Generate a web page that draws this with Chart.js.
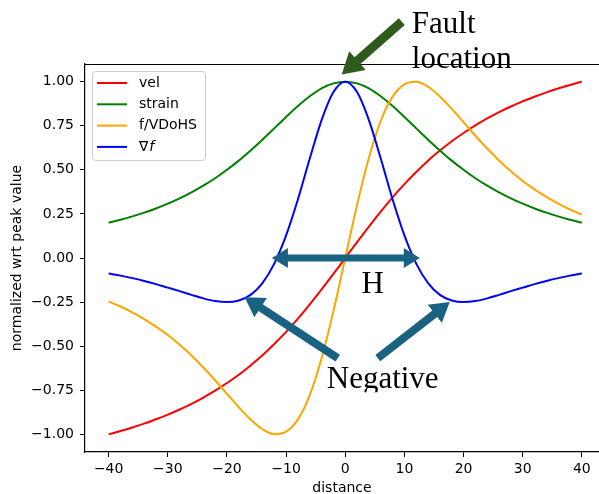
<!DOCTYPE html>
<html><head><meta charset="utf-8">
<script src="https://cdn.jsdelivr.net/npm/chart.js@4"></script>
<style>html,body{margin:0;padding:0;background:#fff;overflow:hidden}</style>
</head><body>
<canvas id="c" width="599" height="494"></canvas>
<script>
const distance = [-40,-38,-36,-34,-32,-30,-28,-26,-24,-22,-20,-18,-16,-14,-12,-10,-8,-6,-4,-2,0,2,4,6,8,10,12,14,16,18,20,22,24,26,28,30,32,34,36,38,40];
const vel = [-1.000,-0.981,-0.961,-0.939,-0.914,-0.888,-0.859,-0.827,-0.791,-0.752,-0.709,-0.662,-0.609,-0.552,-0.488,-0.419,-0.344,-0.263,-0.178,-0.090,0,0.090,0.178,0.263,0.344,0.419,0.488,0.552,0.609,0.662,0.709,0.752,0.791,0.827,0.859,0.888,0.914,0.939,0.961,0.981,1.000];
const strain = [0.200,0.217,0.236,0.257,0.281,0.308,0.338,0.372,0.410,0.452,0.500,0.552,0.610,0.671,0.735,0.800,0.862,0.917,0.962,0.990,1.000,0.990,0.962,0.917,0.862,0.800,0.735,0.671,0.610,0.552,0.500,0.452,0.410,0.372,0.338,0.308,0.281,0.257,0.236,0.217,0.200];
const fVDoHS = [-0.246,-0.275,-0.308,-0.346,-0.389,-0.437,-0.492,-0.553,-0.621,-0.693,-0.770,-0.846,-0.916,-0.971,-0.999,-0.985,-0.915,-0.778,-0.569,-0.302,0,0.302,0.569,0.778,0.915,0.985,0.999,0.971,0.916,0.846,0.770,0.693,0.621,0.553,0.492,0.437,0.389,0.346,0.308,0.275,0.246];
const gradF = [-0.088,-0.100,-0.114,-0.130,-0.148,-0.168,-0.188,-0.209,-0.229,-0.244,-0.250,-0.241,-0.209,-0.142,-0.032,0.128,0.333,0.564,0.782,0.941,1.000,0.941,0.782,0.564,0.333,0.128,-0.032,-0.142,-0.209,-0.241,-0.250,-0.244,-0.229,-0.209,-0.188,-0.168,-0.148,-0.130,-0.114,-0.100,-0.088];
const xTicks = [-40,-30,-20,-10,0,10,20,30,40];
const yTicks = [-1,-0.75,-0.5,-0.25,0,0.25,0.5,0.75,1];
const seriesLabels = ['vel','strain','f/VDoHS','\u2207f'];
const seriesColors = ['#ff0000','#008000','#ffa500','#0000ff'];
const seriesData = [vel, strain, fVDoHS, gradF];

Chart.defaults.font.family = '"DejaVu Sans", sans-serif';
Chart.defaults.font.size = 14;
Chart.defaults.color = '#000';

const minus = s => String(s).replace('-', '\u2212');

function arrow(ctx, x1, y1, x2, y2, sw, hw, hl, col, both) {
  const dx = x2 - x1, dy = y2 - y1, L = Math.hypot(dx, dy);
  const ux = dx / L, uy = dy / L, nx = -uy, ny = ux;
  const P = (t, w) => [x1 + ux * t + nx * w, y1 + uy * t + ny * w];
  const pts = [];
  if (both) { pts.push(P(0, 0), P(hl, hw / 2), P(hl, sw / 2)); } else { pts.push(P(0, sw / 2)); }
  pts.push(P(L - hl, sw / 2), P(L - hl, hw / 2), P(L, 0), P(L - hl, -hw / 2), P(L - hl, -sw / 2));
  if (both) { pts.push(P(hl, -sw / 2), P(hl, -hw / 2)); } else { pts.push(P(0, -sw / 2)); }
  ctx.fillStyle = col;
  ctx.beginPath();
  pts.forEach((p, i) => i ? ctx.lineTo(p[0], p[1]) : ctx.moveTo(p[0], p[1]));
  ctx.closePath();
  ctx.fill();
}

const annot = {
  id: 'annot',
  afterDraw(chart) {
    const {ctx, chartArea: a, scales: {x, y}} = chart;
    const px = v => x.getPixelForValue(v), py = v => y.getPixelForValue(v);
    ctx.save();
    // top spine
    ctx.strokeStyle = '#000'; ctx.lineWidth = 1.2;
    ctx.beginPath(); ctx.moveTo(a.left, a.top + 0.5); ctx.lineTo(a.right, a.top + 0.5); ctx.stroke();

    // legend
    const lx = a.left + 7, ly = a.top + 7, lw = 113, lh = 89;
    ctx.beginPath();
    ctx.roundRect(lx + 0.5, ly + 0.5, lw, lh, 3);
    ctx.fillStyle = 'rgba(255,255,255,0.8)'; ctx.fill();
    ctx.strokeStyle = '#cccccc'; ctx.lineWidth = 1; ctx.stroke();
    chart.data.datasets.forEach((ds, i) => {
      const yy = a.top + 19 + i * 21.3;
      ctx.strokeStyle = ds.borderColor; ctx.lineWidth = 2;
      ctx.beginPath(); ctx.moveTo(a.left + 12, yy); ctx.lineTo(a.left + 42, yy); ctx.stroke();
      ctx.fillStyle = '#000'; ctx.textBaseline = 'middle'; ctx.textAlign = 'left';
      ctx.font = '14px "DejaVu Sans"';
      if (ds.label === '\u2207f') {
        ctx.fillText('\u2207', a.left + 54, yy);
        const w = ctx.measureText('\u2207').width;
        ctx.font = 'italic 14px "DejaVu Sans"';
        ctx.fillText('f', a.left + 54 + w + 1, yy);
      } else {
        ctx.fillText(ds.label, a.left + 54, yy);
      }
    });

    // annotations
    arrow(ctx, px(9.56), py(1.34), px(-0.6), py(1.04), 9, 25, 21, '#2e5a1c', false);
    arrow(ctx, px(-12.4), py(0), px(12.6), py(0), 7, 20, 16, '#1a6282', true);
    arrow(ctx, px(-1.27), py(-0.568), px(-17.0), py(-0.222), 8, 23, 19, '#1a6282', false);
    arrow(ctx, px(5.5), py(-0.568), px(17.67), py(-0.25), 8, 23, 19, '#1a6282', false);

    ctx.fillStyle = '#000';
    ctx.font = '31px "Liberation Serif"';
    ctx.textBaseline = 'alphabetic';
    ctx.textAlign = 'left';
    ctx.fillText('Fault', px(11.25), py(1.278));
    ctx.fillText('location', px(11.25), py(1.08));
    ctx.textAlign = 'center';
    ctx.fillText('H', px(4.65), py(-0.2));
    ctx.textAlign = 'left';
    const nb = py(-0.739);
    ctx.save();
    ctx.beginPath(); ctx.rect(0, 0, chart.width, nb + 4); ctx.clip();
    ctx.fillText('Negative', px(-3.13), nb);
    ctx.restore();
    ctx.restore();
  }
};

new Chart(document.getElementById('c'), {
  type: 'line',
  data: {
    datasets: seriesLabels.map((lab, i) => ({
      label: lab,
      data: distance.map((d, j) => ({x: d, y: seriesData[i][j]})),
      borderColor: seriesColors[i],
      backgroundColor: seriesColors[i],
      borderWidth: 2,
      pointRadius: 0,
      fill: false,
      cubicInterpolationMode: 'monotone',
      order: 4 - i
    }))
  },
  options: {
    responsive: false,
    animation: false,
    devicePixelRatio: 1,
    layout: {padding: {top: 64, left: 0, right: 0, bottom: 0}},
    plugins: {legend: {display: false}, tooltip: {enabled: false}},
    scales: {
      x: {
        type: 'linear', min: -44, max: 42.9,
        afterBuildTicks: s => { s.ticks = xTicks.map(v => ({value: v})); },
        afterFit: s => { s.height = 42; },
        grid: {display: true, drawOnChartArea: false, drawTicks: true, tickLength: 5, color: '#000', lineWidth: 1},
        border: {display: true, color: '#000', width: 1.2},
        ticks: {color: '#000', font: {size: 14}, padding: 4, maxRotation: 0, autoSkip: false, callback: v => minus(v)},
        title: {display: true, text: 'distance', color: '#000', font: {size: 14}, padding: {top: 0, bottom: -3}}
      },
      y: {
        type: 'linear', min: -1.1, max: 1.1,
        afterBuildTicks: s => { s.ticks = yTicks.map(v => ({value: v})); },
        afterFit: s => { s.width = 85; },
        grid: {display: true, drawOnChartArea: false, drawTicks: true, tickLength: 5, color: '#000', lineWidth: 1},
        border: {display: true, color: '#000', width: 1.2},
        ticks: {color: '#000', font: {size: 14}, padding: 6, autoSkip: false, callback: v => minus(Number(v).toFixed(2))},
        title: {display: true, text: 'normalized wrt peak value', color: '#000', font: {size: 14}, padding: {top: 9, bottom: 0}}
      }
    }
  },
  plugins: [annot]
});
</script>
</body></html>
